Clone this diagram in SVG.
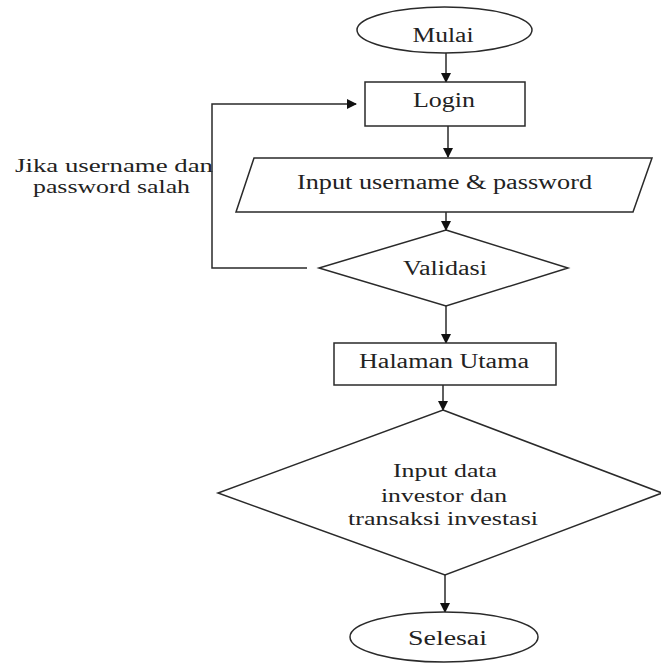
<svg xmlns="http://www.w3.org/2000/svg" width="661" height="664" viewBox="0 0 661 664">
<style>
.s{fill:#fff;stroke:#2a2a2a;stroke-width:1.5}
.c{fill:none;stroke:#2a2a2a;stroke-width:1.5}
</style>
<defs>
<marker id="ah" markerWidth="10" markerHeight="10" refX="9" refY="5" orient="auto" markerUnits="userSpaceOnUse">
<path d="M0,0 L10,5 L0,10 Z" fill="#111"/>
</marker>
</defs>
<rect width="661" height="664" fill="#fff"/>
<g id="connectors">
<line class="c" x1="446" y1="53" x2="446" y2="82" marker-end="url(#ah)"/>
<line class="c" x1="448" y1="126" x2="448" y2="157" marker-end="url(#ah)"/>
<line class="c" x1="446" y1="212" x2="446" y2="230" marker-end="url(#ah)"/>
<polyline class="c" points="307,268 212,268 212,104 356,104" marker-end="url(#ah)"/>
<line class="c" x1="446" y1="306" x2="446" y2="343" marker-end="url(#ah)"/>
<line class="c" x1="443" y1="385" x2="443" y2="410" marker-end="url(#ah)"/>
<line class="c" x1="445" y1="575" x2="445" y2="612" marker-end="url(#ah)"/>
</g>
<g id="mulai">
<ellipse class="s" cx="444.5" cy="30" rx="87.5" ry="23"/>
<text font-family="Liberation Serif, serif" font-size="20" fill="#222" text-anchor="middle" x="443" y="42" textLength="61" lengthAdjust="spacingAndGlyphs">Mulai</text>
</g>
<g id="login">
<rect class="s" x="365" y="82" width="160" height="44"/>
<text font-family="Liberation Serif, serif" font-size="20" fill="#222" text-anchor="middle" x="444" y="107" textLength="62" lengthAdjust="spacingAndGlyphs">Login</text>
</g>
<g id="input-login">
<polygon class="s" points="254,158 652,158 633,212 236,212"/>
<text font-family="Liberation Serif, serif" font-size="20" fill="#222" text-anchor="middle" x="444.5" y="189" textLength="295" lengthAdjust="spacingAndGlyphs">Input username &amp; password</text>
</g>
<g id="validasi">
<polygon class="s" points="446,230 568,268 446,306 319,268"/>
<text font-family="Liberation Serif, serif" font-size="20" fill="#222" text-anchor="middle" x="445" y="275" textLength="84" lengthAdjust="spacingAndGlyphs">Validasi</text>
</g>
<g id="label-salah">
<text font-family="Liberation Serif, serif" font-size="19" fill="#222" text-anchor="middle" x="114" y="172" textLength="198" lengthAdjust="spacingAndGlyphs">Jika username dan</text>
<text font-family="Liberation Serif, serif" font-size="19" fill="#222" text-anchor="middle" x="111.5" y="193" textLength="157" lengthAdjust="spacingAndGlyphs">password salah</text>
</g>
<g id="halaman-utama">
<rect class="s" x="334" y="343" width="222" height="42"/>
<text font-family="Liberation Serif, serif" font-size="20" fill="#222" text-anchor="middle" x="444" y="368" textLength="170" lengthAdjust="spacingAndGlyphs">Halaman Utama</text>
</g>
<g id="input-data">
<polygon class="s" points="443,410 662,493 445,575 218,493"/>
<text font-family="Liberation Serif, serif" font-size="19" fill="#222" text-anchor="middle" x="445" y="477" textLength="104" lengthAdjust="spacingAndGlyphs">Input data</text>
<text font-family="Liberation Serif, serif" font-size="19" fill="#222" text-anchor="middle" x="444" y="502" textLength="126" lengthAdjust="spacingAndGlyphs">investor dan</text>
<text font-family="Liberation Serif, serif" font-size="19" fill="#222" text-anchor="middle" x="443" y="525" textLength="190" lengthAdjust="spacingAndGlyphs">transaksi investasi</text>
</g>
<g id="selesai">
<ellipse class="s" cx="444" cy="637" rx="94" ry="25"/>
<text font-family="Liberation Serif, serif" font-size="20" fill="#222" text-anchor="middle" x="447.5" y="645" textLength="79" lengthAdjust="spacingAndGlyphs">Selesai</text>
</g>
</svg>
